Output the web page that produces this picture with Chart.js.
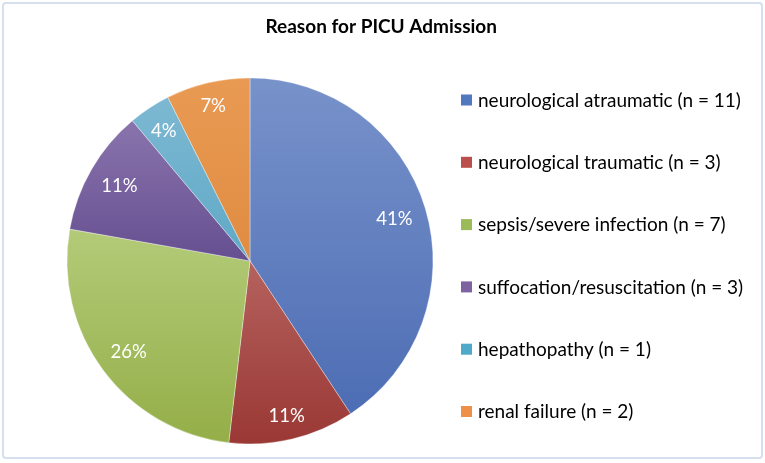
<!DOCTYPE html>
<html>
<head>
<meta charset="utf-8">
<script src="https://cdn.jsdelivr.net/npm/chart.js@4.4.1/dist/chart.umd.min.js"></script>
<style>
  html, body { margin: 0; padding: 0; background: #ffffff; }
  #wrap { width: 765px; height: 463px; position: relative; }
</style>
</head>
<body>
<div id="wrap"><canvas id="c"></canvas></div>
<script>
// ---- data ----
const categories = [
  'neurological atraumatic (n = 11)',
  'neurological traumatic (n = 3)',
  'sepsis/severe infection (n = 7)',
  'suffocation/resuscitation (n = 3)',
  'hepathopathy (n = 1)',
  'renal failure (n = 2)'
];
const counts = [11, 3, 7, 3, 1, 2];
const chartTitle = 'Reason for PICU Admission';

// ---- styles ----
const lightColors = ['#7892CA', '#B5625E', '#B3CB78', '#8A74AD', '#7DB8D2', '#E99A52'];
const darkColors  = ['#4D6DB4', '#9A3835', '#94AE48', '#664F90', '#5FA9C7', '#E08C42'];
const legendColors = ['#5079BF', '#BB4F4C', '#9BBB59', '#7F63A1', '#4FA9C8', '#EE9146'];
const FONT = 'Lato, Carlito, "Open Sans", sans-serif';
const PIE_R = 183;

function sectorYRange(cy, r, s, e) {
  let ys = [cy, cy + r * Math.sin(s), cy + r * Math.sin(e)];
  const check = [Math.PI / 2, -Math.PI / 2, 3 * Math.PI / 2];
  check.forEach(a => { if (a >= s && a <= e) ys.push(cy + r * Math.sin(a)); });
  return [Math.min(...ys), Math.max(...ys)];
}

function sliceGradient(ctx) {
  const chart = ctx.chart;
  const area = chart.chartArea;
  const i = ctx.dataIndex;
  if (!area || i === undefined) return lightColors[i || 0];
  const total = counts.reduce((a, b) => a + b, 0);
  let cum = 0;
  for (let k = 0; k < i; k++) cum += counts[k];
  const s = -Math.PI / 2 + cum / total * 2 * Math.PI;
  const e = s + counts[i] / total * 2 * Math.PI;
  const cy = (area.top + area.bottom) / 2;
  const [y0, y1] = sectorYRange(cy, PIE_R, s, e);
  const g = chart.ctx.createLinearGradient(0, y0, 0, y1);
  g.addColorStop(0, lightColors[i]);
  g.addColorStop(1, darkColors[i]);
  return g;
}

const frame = {
  id: 'frame',
  beforeDraw(chart) {
    const c = chart.ctx;
    c.save();
    c.fillStyle = '#ffffff';
    c.fillRect(0, 0, chart.width, chart.height);
    c.strokeStyle = '#D6DFEE';
    c.lineWidth = 2;
    c.beginPath();
    if (c.roundRect) c.roundRect(3, 3, chart.width - 6, chart.height - 8, 3);
    else c.rect(3, 3, chart.width - 6, chart.height - 8);
    c.stroke();
    c.restore();
  }
};

const pctLabels = {
  id: 'pctLabels',
  afterDatasetsDraw(chart) {
    const c = chart.ctx;
    const meta = chart.getDatasetMeta(0);
    const total = counts.reduce((a, b) => a + b, 0);
    c.save();
    c.font = '18.5px ' + FONT;
    c.fillStyle = '#ffffff';
    c.textAlign = 'center';
    c.textBaseline = 'middle';
    meta.data.forEach((arc, i) => {
      const p = arc.getProps(['x', 'y', 'startAngle', 'endAngle', 'outerRadius'], true);
      const mid = (p.startAngle + p.endAngle) / 2;
      const ux = Math.cos(mid), uy = Math.sin(mid);
      const txt = Math.round(counts[i] / total * 100) + '%';
      const w = c.measureText(txt).width;
      const h = 16;
      const d = p.outerRadius - 12.5 - (Math.abs(ux) * w / 2 + Math.abs(uy) * h / 2);
      c.fillText(txt, p.x + ux * d, p.y + uy * d + 1);
    });
    c.restore();
  }
};

const sideLegend = {
  id: 'sideLegend',
  afterDraw(chart) {
    const c = chart.ctx;
    c.save();
    c.font = '19px ' + FONT;
    c.textBaseline = 'middle';
    c.textAlign = 'left';
    const step = 62.3, firstY = 100;
    chart.data.labels.forEach((lab, i) => {
      const y = firstY + i * step;
      c.fillStyle = legendColors[i];
      c.fillRect(461, y - 5.5, 11, 11);
      c.fillStyle = '#000000';
      c.fillText(lab, 478, y + 0.5);
    });
    c.restore();
  }
};

new Chart(document.getElementById('c'), {
  type: 'pie',
  data: {
    labels: categories,
    datasets: [{
      data: counts,
      backgroundColor: sliceGradient,
      borderColor: 'rgba(255,255,255,0.35)',
      borderWidth: 1,
      radius: PIE_R
    }]
  },
  options: {
    responsive: true,
    maintainAspectRatio: false,
    animation: false,
    layout: { padding: { left: 3, right: 268, top: 0, bottom: 0 } },
    plugins: {
      legend: { display: false },
      tooltip: { enabled: false },
      title: {
        display: true,
        text: chartTitle,
        align: 'end',
        color: '#000000',
        font: { family: FONT, size: 19, weight: 'bold' },
        padding: { top: 15, bottom: 21 }
      }
    }
  },
  plugins: [frame, pctLabels, sideLegend]
});
</script>
</body>
</html>
